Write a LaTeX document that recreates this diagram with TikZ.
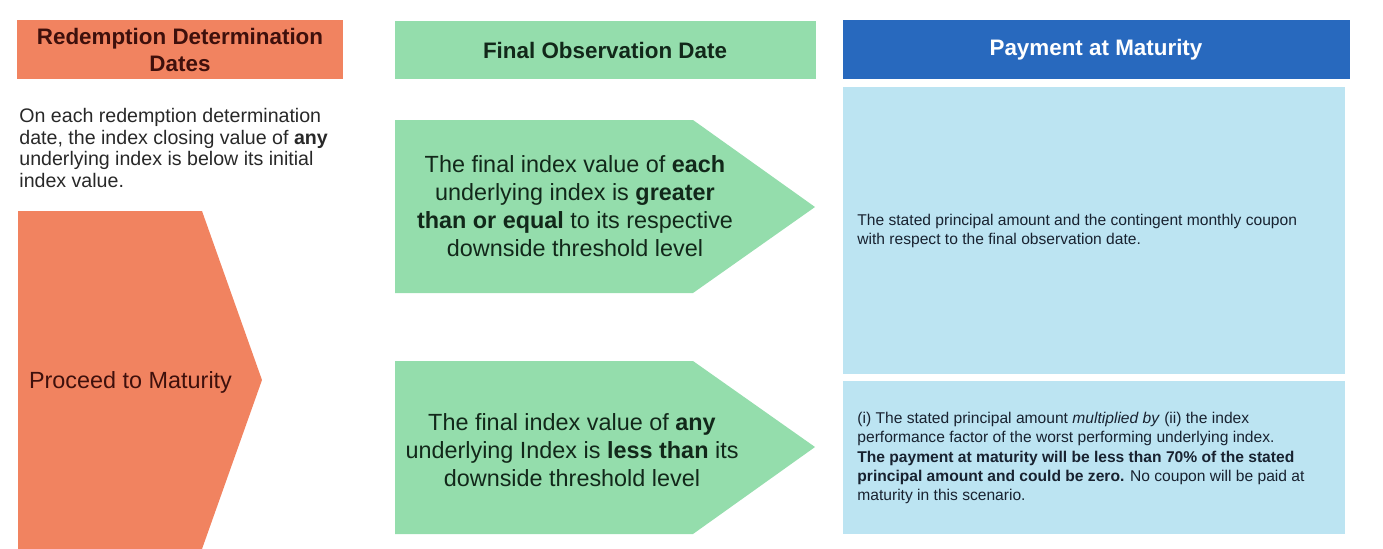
\documentclass[tikz,border=0pt]{standalone}
\usepackage{fontspec}
\setmainfont{Liberation Sans}
\usepackage{xcolor}
\usetikzlibrary{positioning}
\definecolor{redeemorange}{RGB}{241,131,96}
\definecolor{redeemtext}{RGB}{62,16,12}
\definecolor{obsgreen}{RGB}{148,221,172}
\definecolor{obstext}{RGB}{18,40,26}
\definecolor{paybluehdr}{RGB}{40,105,190}
\definecolor{paylight}{RGB}{188,228,242}
\definecolor{paytext}{RGB}{24,34,48}
\definecolor{desctext}{RGB}{40,40,40}

\begin{document}
\begin{tikzpicture}[x=0.5pt,y=-0.5pt,
  % coordinates are in pixels of the layout, y pointing down
  hdr/.style={font=\fontsize{11.2}{13.5}\selectfont\bfseries, align=center, inner sep=0pt},
  desc/.style={font=\fontsize{9.8}{10.75}\selectfont, align=left, inner sep=0pt, text=desctext},
  chevtext/.style={font=\fontsize{11.7}{14}\selectfont, align=center, inner sep=0pt, text=obstext},
  paynote/.style={font=\fontsize{7.8}{9.6}\selectfont, align=left, inner sep=0pt, text=paytext}]

  \useasboundingbox (0,0) rectangle (1383,548);

  % left column
  \fill[redeemorange] (17,20) rectangle (343,79);
  \node[hdr,text=redeemtext] (redeemhdr) at (180,50) {Redemption Determination\\Dates};
  \node[desc,anchor=west] (redeemdesc) at (19,148)
    {On each redemption determination\\date, the index closing value of \textbf{any}\\underlying index is below its initial\\index value.};
  \fill[redeemorange] (18,211) -- (202,211) -- (262,380) -- (202,549) -- (18,549) -- cycle;
  \node[font=\fontsize{11.7}{14}\selectfont,text=redeemtext,inner sep=0pt] (proceed) at (130.5,382) {Proceed to Maturity};

  % middle column
  \fill[obsgreen] (395,21) rectangle (816,79);
  \node[hdr,text=obstext] (obshdr) at (605,50) {Final Observation Date};
  \fill[obsgreen] (395,120) -- (693,120) -- (815,207) -- (693,293) -- (395,293) -- cycle;
  \node[chevtext] (obsup) at (575,206)
    {The final index value of \textbf{each}\\underlying index is \textbf{greater}\\\textbf{than or equal} to its respective\\downside threshold level};
  \fill[obsgreen] (395,361) -- (693,361) -- (815,447) -- (693,534) -- (395,534) -- cycle;
  \node[chevtext] (obsdown) at (572,450)
    {The final index value of \textbf{any}\\underlying Index is \textbf{less than} its\\downside threshold level};

  % right column
  \fill[paybluehdr] (843,20) rectangle (1350,79);
  \node[hdr,text=white] (payhdr) at (1096,50) {Payment at Maturity};
  \fill[paylight] (843,87) rectangle (1345,374);
  \node[paynote,anchor=west] (payup) at (857,231)
    {The stated principal amount and the contingent monthly coupon\\with respect to the final observation date.};
  \fill[paylight] (843,381) rectangle (1345,534);
  \node[paynote,anchor=west] (paydown) at (857,458)
    {(i) The stated principal amount \textit{multiplied by} (ii) the index\\performance factor of the worst performing underlying index.\\\textbf{The payment at maturity will be less than 70\% of the stated}\\\textbf{principal amount and could be zero.} No coupon will be paid at\\maturity in this scenario.};

\end{tikzpicture}
\end{document}
